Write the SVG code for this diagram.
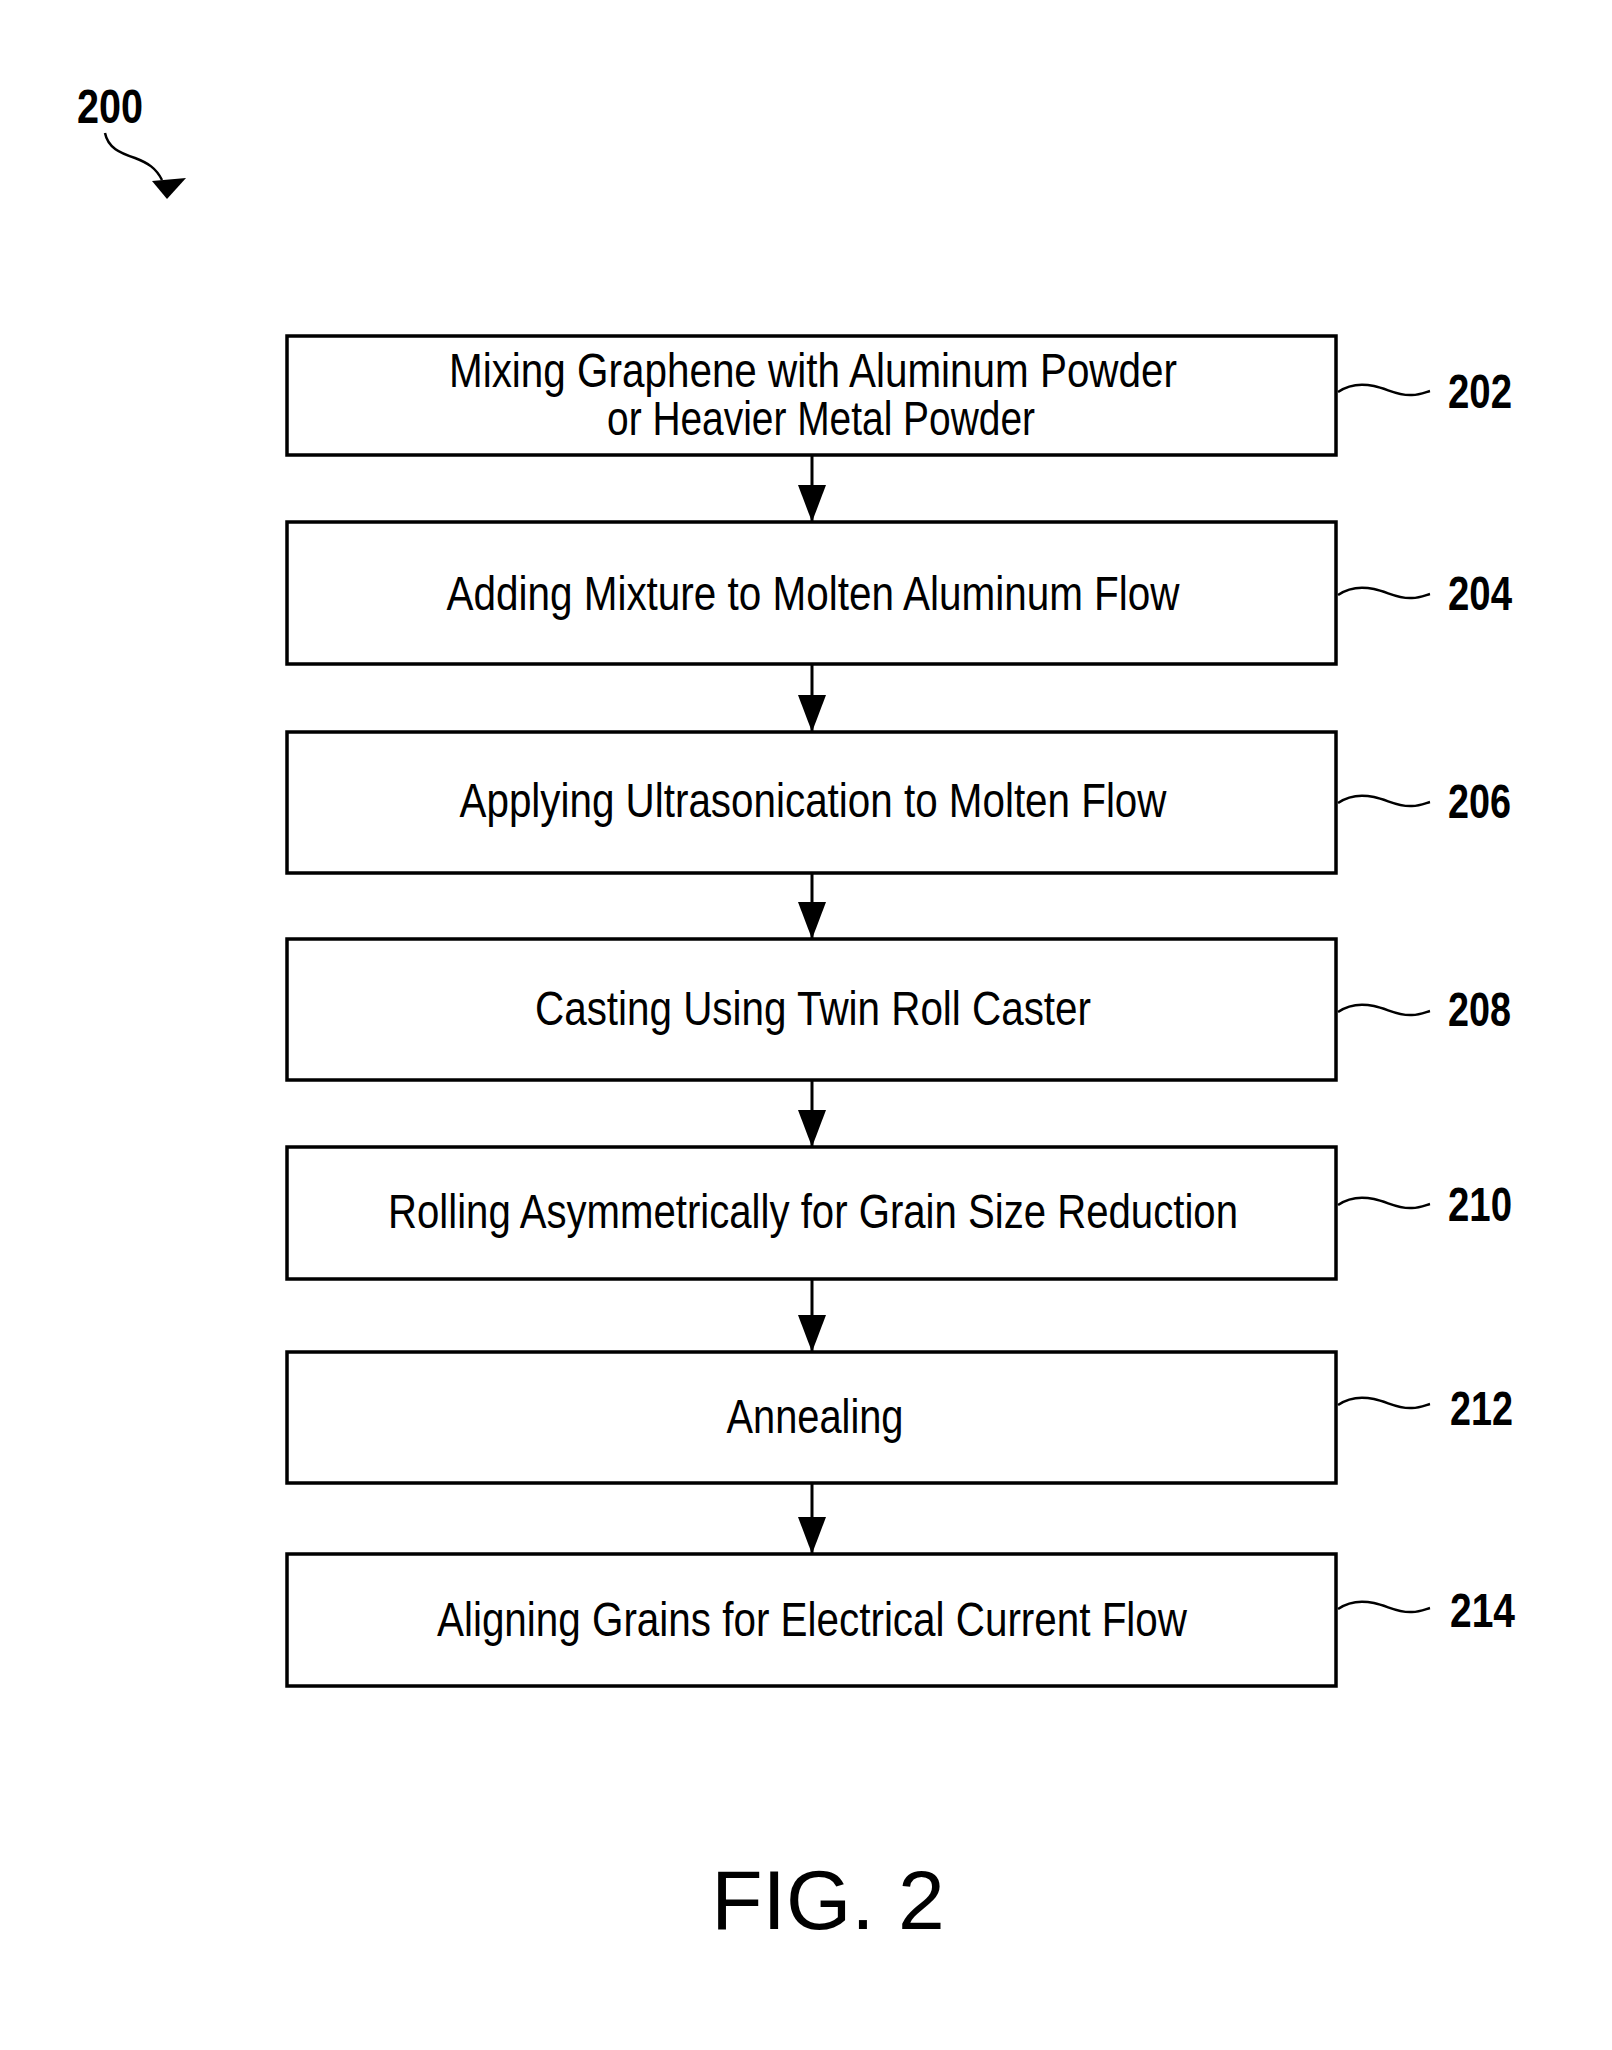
<svg xmlns="http://www.w3.org/2000/svg" width="1612" height="2050" viewBox="0 0 1612 2050">
<style>
.box{fill:#fff;stroke:#000;stroke-width:3.5}
.t{font-family:"Liberation Sans",Arial,sans-serif;font-size:48px;fill:#000;text-anchor:middle}
.n{font-family:"Liberation Sans",Arial,sans-serif;font-size:48px;font-weight:bold;fill:#000}
.lead{fill:none;stroke:#000;stroke-width:2.5}
.conn{fill:none;stroke:#000;stroke-width:3}
</style>
<defs>
<marker id="ah" markerUnits="userSpaceOnUse" markerWidth="38" markerHeight="28" viewBox="0 0 38 28" refX="37" refY="14" orient="auto">
<path d="M0,0 L37,14 L0,28 Z" fill="#000"/>
</marker>
<path id="sq" d="M0,0 c10,-7 22,-9 36,-6 c14,3 24,10 38,9 c8,0 14,-3 18,-4"/>
</defs>
<rect width="1612" height="2050" fill="#fff"/>

<g id="fig-ref">
<text class="n" x="77" y="123" textLength="66" lengthAdjust="spacingAndGlyphs">200</text>
<path class="lead" d="M105,133 C108,148 120,153 135,158 C148,163 156,168 162,180" stroke-width="3"/>
<polygon points="152,181 186,178 167,199" fill="#000"/>
</g>

<g id="node-202">
<rect class="box" x="287" y="336" width="1049" height="119"/>
<text class="t" x="813" y="387" textLength="728" lengthAdjust="spacingAndGlyphs">Mixing Graphene with Aluminum Powder</text>
<text class="t" x="821" y="435" textLength="428" lengthAdjust="spacingAndGlyphs">or Heavier Metal Powder</text>
<use href="#sq" class="lead" x="1338" y="392"/>
<text class="n" x="1448" y="408" textLength="64" lengthAdjust="spacingAndGlyphs">202</text>
</g>

<g id="node-204">
<rect class="box" x="287" y="522" width="1049" height="142"/>
<text class="t" x="813" y="610" textLength="733" lengthAdjust="spacingAndGlyphs">Adding Mixture to Molten Aluminum Flow</text>
<use href="#sq" class="lead" x="1338" y="595"/>
<text class="n" x="1448" y="610" textLength="64" lengthAdjust="spacingAndGlyphs">204</text>
</g>

<g id="node-206">
<rect class="box" x="287" y="732" width="1049" height="141"/>
<text class="t" x="813" y="817" textLength="707" lengthAdjust="spacingAndGlyphs">Applying Ultrasonication to Molten Flow</text>
<use href="#sq" class="lead" x="1338" y="803"/>
<text class="n" x="1448" y="818" textLength="63" lengthAdjust="spacingAndGlyphs">206</text>
</g>

<g id="node-208">
<rect class="box" x="287" y="939" width="1049" height="141"/>
<text class="t" x="813" y="1025" textLength="556" lengthAdjust="spacingAndGlyphs">Casting Using Twin Roll Caster</text>
<use href="#sq" class="lead" x="1338" y="1012"/>
<text class="n" x="1448" y="1026" textLength="63" lengthAdjust="spacingAndGlyphs">208</text>
</g>

<g id="node-210">
<rect class="box" x="287" y="1147" width="1049" height="132"/>
<text class="t" x="813" y="1228" textLength="850" lengthAdjust="spacingAndGlyphs">Rolling Asymmetrically for Grain Size Reduction</text>
<use href="#sq" class="lead" x="1338" y="1205"/>
<text class="n" x="1448" y="1221" textLength="64" lengthAdjust="spacingAndGlyphs">210</text>
</g>

<g id="node-212">
<rect class="box" x="287" y="1352" width="1049" height="131"/>
<text class="t" x="815" y="1433" textLength="177" lengthAdjust="spacingAndGlyphs">Annealing</text>
<use href="#sq" class="lead" x="1338" y="1405"/>
<text class="n" x="1450" y="1425" textLength="63" lengthAdjust="spacingAndGlyphs">212</text>
</g>

<g id="node-214">
<rect class="box" x="287" y="1554" width="1049" height="132"/>
<text class="t" x="812" y="1636" textLength="750" lengthAdjust="spacingAndGlyphs">Aligning Grains for Electrical Current Flow</text>
<use href="#sq" class="lead" x="1338" y="1609"/>
<text class="n" x="1450" y="1627" textLength="65" lengthAdjust="spacingAndGlyphs">214</text>
</g>

<g id="connectors">
<line class="conn" x1="812" y1="455" x2="812" y2="522" marker-end="url(#ah)"/>
<line class="conn" x1="812" y1="664" x2="812" y2="732" marker-end="url(#ah)"/>
<line class="conn" x1="812" y1="873" x2="812" y2="939" marker-end="url(#ah)"/>
<line class="conn" x1="812" y1="1080" x2="812" y2="1147" marker-end="url(#ah)"/>
<line class="conn" x1="812" y1="1279" x2="812" y2="1352" marker-end="url(#ah)"/>
<line class="conn" x1="812" y1="1483" x2="812" y2="1554" marker-end="url(#ah)"/>
</g>

<g id="caption">
<text x="828" y="1929" font-family="Liberation Sans, Arial, sans-serif" font-size="84" text-anchor="middle" fill="#000">FIG. 2</text>
</g>
</svg>
